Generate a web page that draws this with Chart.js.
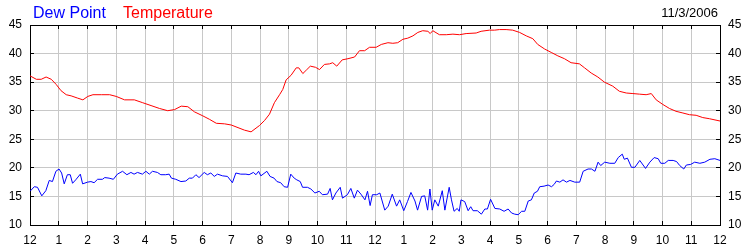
<!DOCTYPE html>
<html>
<head>
<meta charset="utf-8">
<script src="https://cdn.jsdelivr.net/npm/chart.js@4/dist/chart.umd.min.js"></script>
<style>
  body { margin: 0; background: #fff; }
</style>
</head>
<body>
<canvas id="chart" width="750" height="250"></canvas>
<script>
const DATE_LABEL = '11/3/2006';
const FONT = '"Liberation Sans", Arial, sans-serif';

// hours since midnight
const dewTimes = [0,0.15,0.26,0.41,0.55,0.67,0.78,0.90,1.01,1.10,1.19,1.30,1.40,1.48,1.59,1.75,1.83,2.00,2.12,2.23,
  2.35,2.52,2.60,2.75,2.90,3.04,3.22,3.37,3.51,3.62,3.74,3.91,4.03,4.15,4.26,4.43,4.55,4.72,4.84,4.92,
  5.07,5.25,5.42,5.54,5.65,5.77,5.88,6.06,6.17,6.29,6.41,6.52,6.70,6.87,7.04,7.16,7.33,7.51,7.62,7.77,
  7.86,7.95,8.03,8.24,8.35,8.49,8.59,8.72,8.84,8.96,9.07,9.19,9.28,9.40,9.48,9.65,9.77,9.91,10.06,10.17,
  10.35,10.44,10.52,10.64,10.79,10.87,11.04,11.16,11.28,11.39,11.51,11.65,11.74,11.83,11.91,12.06,
  12.17,12.34,12.46,12.60,12.75,12.86,13.00,13.13,13.25,13.39,13.48,13.62,13.73,13.83,13.91,13.99,14.08,14.20,14.34,14.43,
  14.58,14.66,14.75,14.86,14.93,14.99,15.12,15.24,15.33,15.41,15.56,15.70,15.82,15.91,16.02,16.17,16.34,16.49,16.63,16.75,
  16.86,16.98,17.10,17.21,17.33,17.44,17.54,17.65,17.73,17.88,18.02,18.14,18.23,18.31,18.43,18.54,18.66,18.78,18.95,19.12,
  19.24,19.41,19.53,19.65,19.76,19.85,19.99,20.17,20.34,20.46,20.60,20.67,20.78,20.92,21.04,21.21,21.41,21.56,21.71,21.85,
  21.94,22.08,22.20,22.37,22.49,22.60,22.74,22.83,22.98,23.12,23.30,23.47,23.65,23.82,24.0];
const dewValues = [15.9,16.7,16.6,15.1,16.0,17.8,17.6,19.4,19.8,19.1,17.2,18.8,18.8,17.3,17.9,18.9,17.2,17.5,17.6,17.4,
  18.0,18.0,18.3,18.2,18.0,18.9,19.4,18.8,19.2,18.9,19.2,18.9,19.4,18.9,19.4,19.2,18.8,18.8,18.9,18.2,
  18.0,17.6,17.7,18.2,18.2,18.8,18.3,19.2,18.8,19.1,18.5,18.9,18.6,18.5,17.4,19.1,18.9,18.9,18.8,19.2,
  18.8,19.4,18.6,19.4,18.5,18.2,17.6,17.4,16.7,16.6,18.9,18.2,17.9,17.6,16.6,16.6,16.3,15.6,15.9,15.3,
  15.4,16.4,14.4,15.6,16.6,14.7,15.3,16.4,14.7,16.1,15.4,14.4,15.9,13.4,15.3,15.3,
  15.6,12.6,13.3,15.4,13.3,14.4,12.5,14.1,15.7,14.2,12.6,15.0,15.1,12.6,16.3,12.6,14.4,13.3,16.0,12.6,
  16.6,14.4,12.4,12.9,12.4,14.4,14.1,12.5,13.2,12.5,12.5,11.9,12.8,12.8,14.5,12.9,12.8,12.4,12.8,12.1,
  11.9,11.8,12.4,12.4,14.2,14.4,15.6,15.9,16.7,16.8,17.0,16.7,17.1,17.7,17.5,17.9,17.5,17.8,17.5,17.5,
  19.4,19.8,19.8,19.4,21.0,20.4,21.0,20.8,20.8,21.8,22.4,21.5,21.7,20.1,20.1,21.3,19.9,21.0,21.8,21.6,
  20.8,20.8,21.3,21.3,21.1,20.4,19.8,20.5,20.6,21.0,20.8,21.0,21.5,21.6,21.3];

const tempTimes = [0,0.22,0.39,0.56,0.74,0.91,1.08,1.26,1.43,1.66,1.84,2.01,2.19,2.48,2.77,3.00,3.29,3.63,3.92,4.21,
  4.50,4.79,5.03,5.26,5.49,5.72,6.01,6.24,6.48,6.77,7.00,7.46,7.69,7.98,8.16,8.33,8.50,8.68,8.79,8.91,
  9.08,9.26,9.35,9.49,9.61,9.75,9.93,10.07,10.24,10.42,10.53,10.67,10.86,11.06,11.29,11.46,11.64,11.81,12.04,12.22,
  12.45,12.62,12.79,12.97,13.14,13.32,13.49,13.66,13.84,13.92,14.01,14.24,14.48,14.71,14.94,15.17,15.52,15.69,15.98,16.16,
  16.33,16.56,16.79,17.03,17.26,17.49,17.66,17.90,18.13,18.36,18.59,18.82,19.11,19.29,19.52,19.75,19.98,20.27,20.50,20.74,
  20.97,21.20,21.43,21.61,21.78,22.01,22.24,22.47,22.71,22.94,23.17,23.40,23.63,24.0];
const tempValues = [36.1,35.5,35.5,35.9,35.5,34.6,33.5,32.8,32.6,32.2,31.9,32.5,32.8,32.8,32.8,32.5,31.9,31.9,31.4,30.9,
  30.4,30.0,30.2,30.8,30.7,29.8,29.1,28.5,27.8,27.7,27.5,26.6,26.3,27.4,28.3,29.4,31.4,32.8,33.7,35.4,
  36.2,37.5,37.5,36.5,37.1,37.8,37.6,37.2,38.1,38.2,38.4,37.8,38.9,39.1,39.4,40.5,40.5,41.1,41.1,41.6,
  41.9,41.8,41.9,42.5,42.7,43.1,43.7,44.0,43.9,43.5,44.0,43.3,43.3,43.4,43.3,43.5,43.6,43.9,44.1,44.1,
  44.2,44.2,44.1,43.7,43.1,42.6,41.6,40.8,40.2,39.6,39.1,38.4,38.2,37.5,36.6,35.9,35.0,34.3,33.4,33.1,
  33.0,32.9,32.8,33.0,31.9,31.1,30.4,29.9,29.6,29.3,29.2,28.8,28.6,28.2];

const hourLabels = ['12','1','2','3','4','5','6','7','8','9','10','11',
  '12','1','2','3','4','5','6','7','8','9','10','11','12'];
const yMin = 10, yMax = 45, yStep = 5;

const toPoints = (times, values) => times.map((t, i) => ({ x: t, y: values[i] }));

const headerText = {
  id: 'headerText',
  afterDraw(chart) {
    const c = chart.ctx;
    c.save();
    c.textBaseline = 'alphabetic';
    c.font = '16px ' + FONT;
    c.fillStyle = '#0000ff';
    c.fillText('Dew Point', 33, 18);
    c.fillStyle = '#ff0000';
    c.fillText('Temperature', 123, 18);
    c.font = '13px ' + FONT;
    c.fillStyle = '#000';
    c.textAlign = 'right';
    c.fillText(DATE_LABEL, 718, 17);
    c.restore();
  }
};

const tickFont = { family: FONT, size: 12 };
const gridGrey = '#c8c8c8';

new Chart(document.getElementById('chart'), {
  type: 'line',
  data: {
    datasets: [{
      label: 'Dew Point',
      data: toPoints(dewTimes, dewValues),
      borderColor: '#0000ff',
      borderWidth: 1,
      pointRadius: 0,
      tension: 0
    }, {
      label: 'Temperature',
      data: toPoints(tempTimes, tempValues),
      borderColor: '#ff0000',
      borderWidth: 1,
      pointRadius: 0,
      tension: 0
    }]
  },
  options: {
    responsive: false,
    animation: false,
    layout: { padding: { top: 25 } },
    plugins: { legend: { display: false }, tooltip: { enabled: false } },
    scales: {
      x: {
        type: 'linear', position: 'bottom', min: 0, max: 24,
        ticks: { stepSize: 1, autoSkip: false, maxRotation: 0, padding: 12, color: '#000', font: tickFont,
          callback: v => hourLabels[v] },
        grid: { color: gridGrey, tickColor: '#000', tickLength: -4 },
        border: { color: '#000' },
        afterFit(s) { s.height = 25; }
      },
      xTop: {
        type: 'linear', position: 'top', min: 0, max: 24,
        ticks: { stepSize: 1, display: false },
        grid: { drawOnChartArea: false, tickColor: '#000', tickLength: -4 },
        border: { color: '#000' },
        afterFit(s) { s.height = 0; }
      },
      y: {
        position: 'left', min: yMin, max: yMax,
        ticks: { stepSize: yStep, padding: 12, color: '#000', font: tickFont },
        grid: { color: gridGrey, tickColor: '#000', tickLength: -4 },
        border: { color: '#000' },
        afterFit(s) { s.width = 30; }
      },
      yRight: {
        position: 'right', min: yMin, max: yMax,
        ticks: { stepSize: yStep, padding: 12, color: '#000', font: tickFont },
        grid: { drawOnChartArea: false, tickColor: '#000', tickLength: -4 },
        border: { color: '#000' },
        afterFit(s) { s.width = 30; }
      }
    }
  },
  plugins: [headerText]
});
</script>
</body>
</html>
